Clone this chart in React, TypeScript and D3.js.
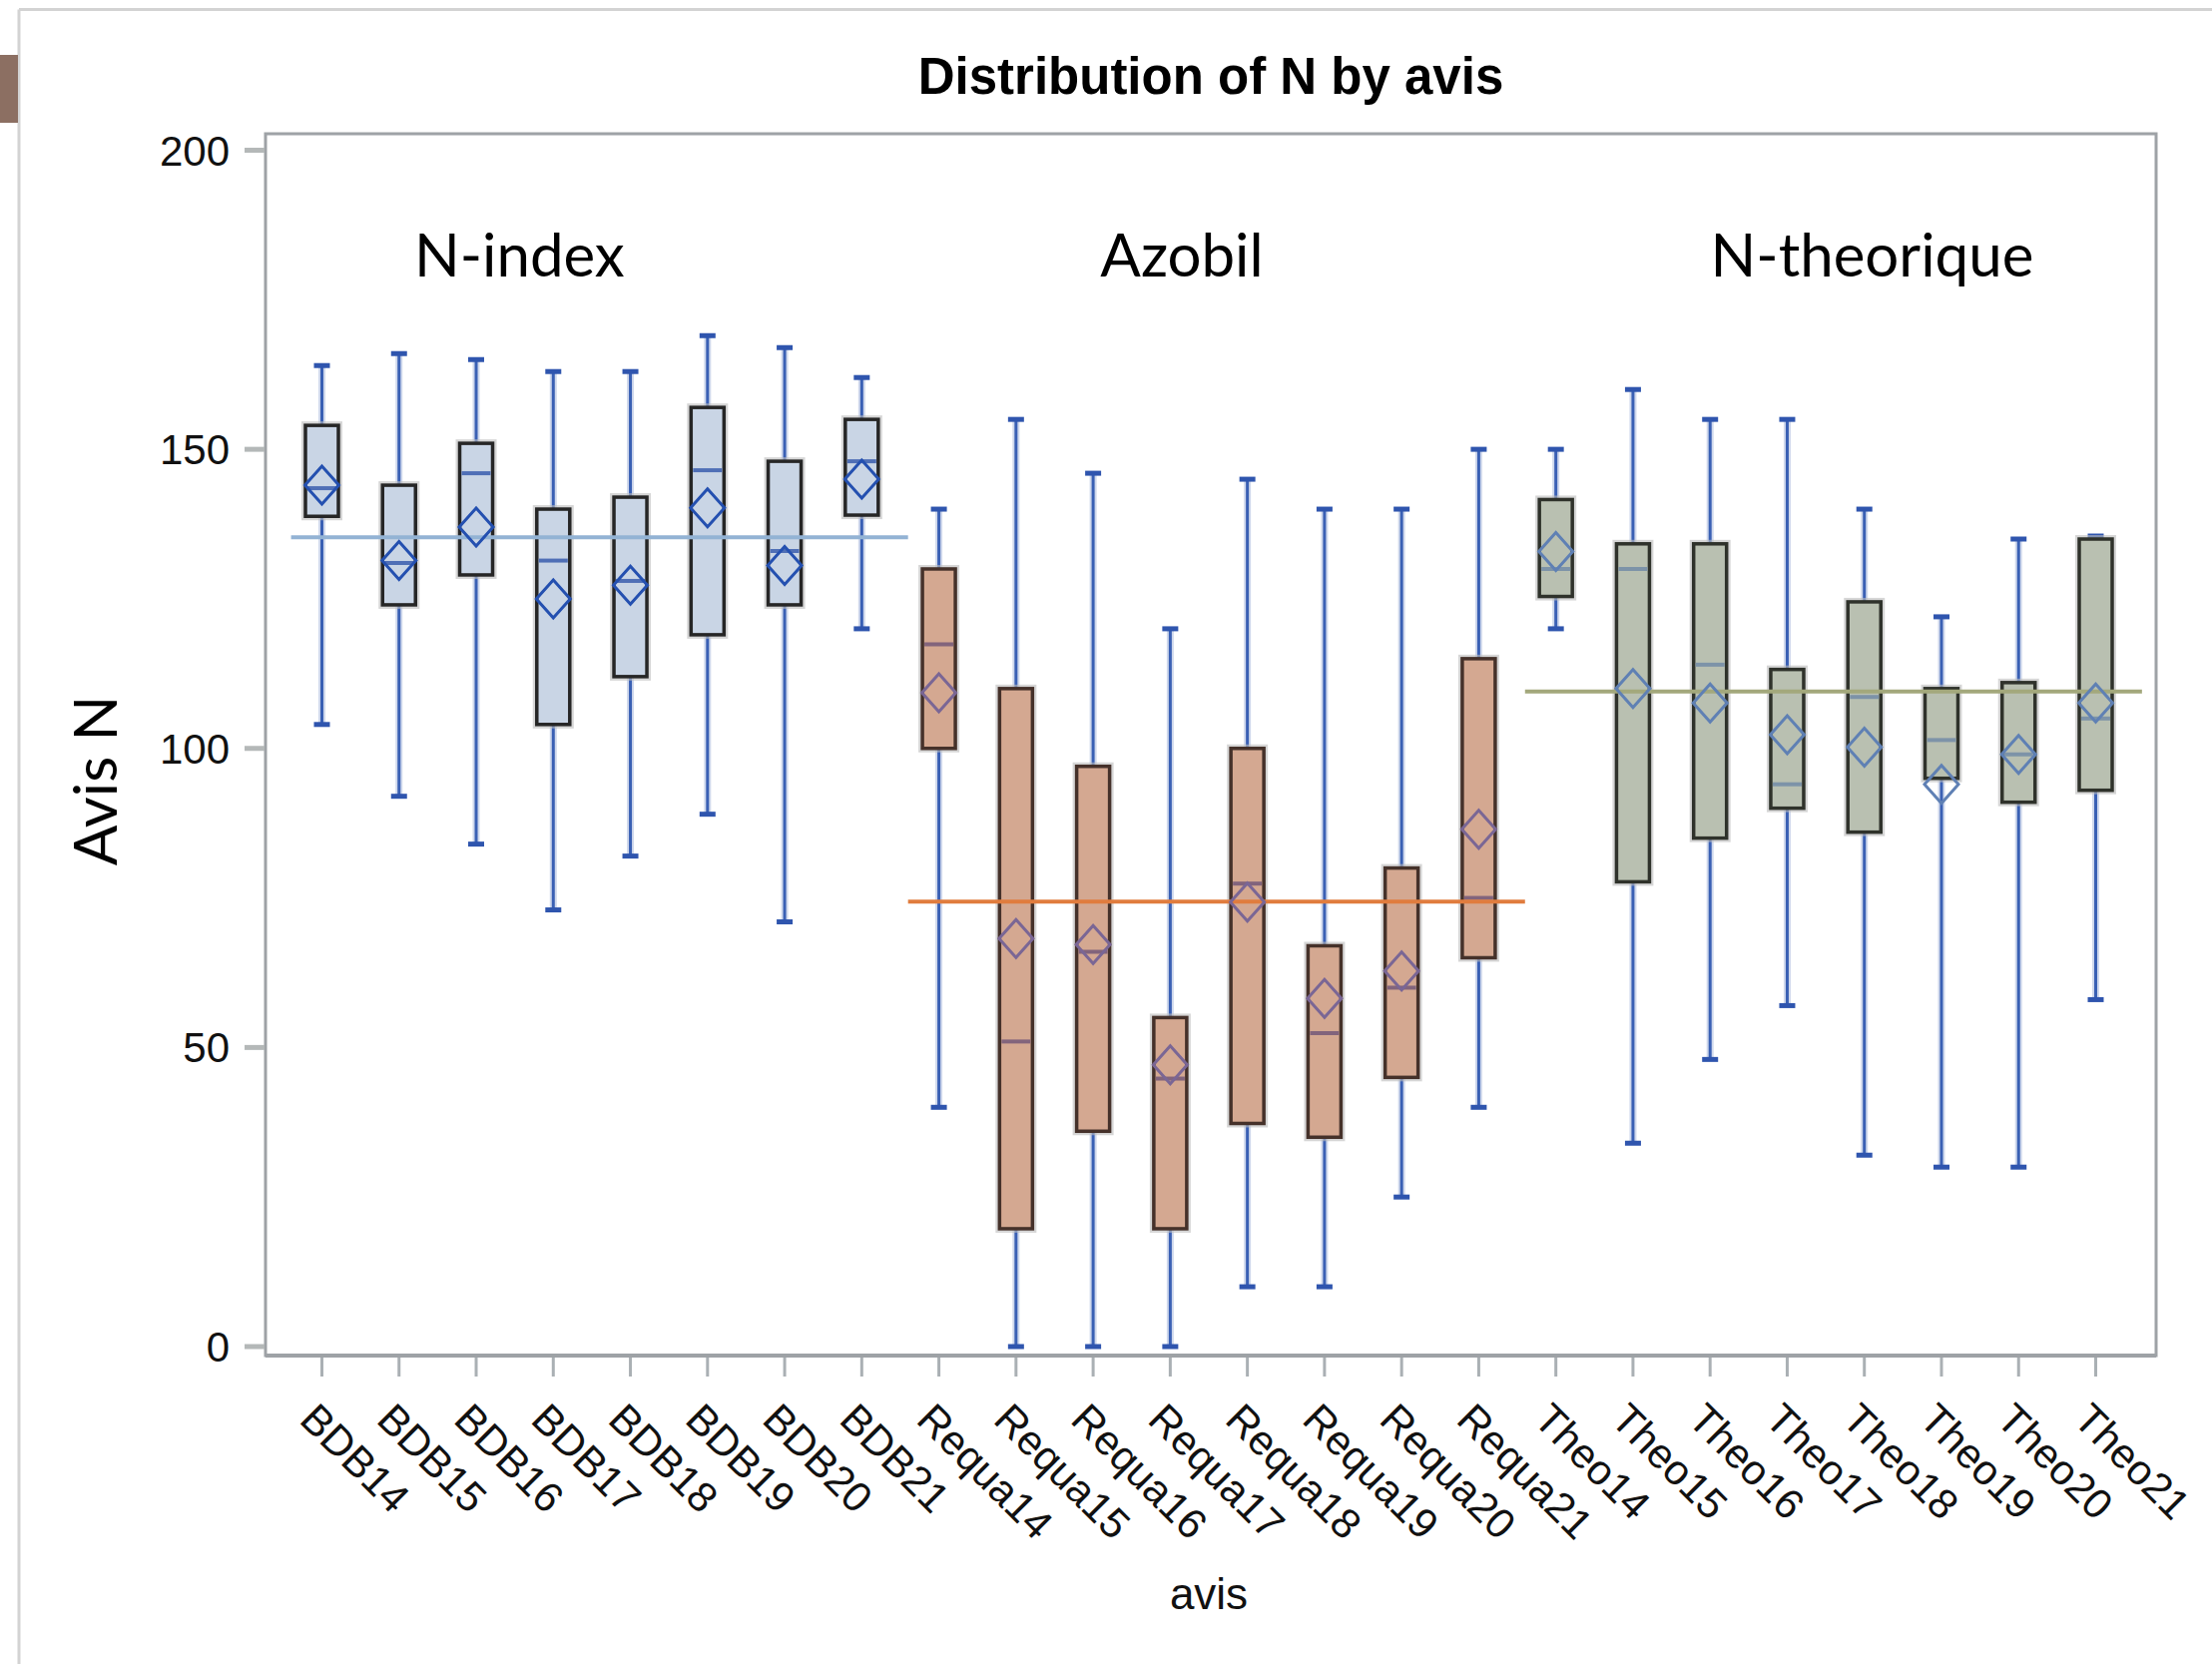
import React from 'react';
import * as d3 from 'd3';

// categories on the x axis
const categories = [
  'BDB14', 'BDB15', 'BDB16', 'BDB17', 'BDB18', 'BDB19', 'BDB20', 'BDB21',
  'Requa14', 'Requa15', 'Requa16', 'Requa17', 'Requa18', 'Requa19', 'Requa20', 'Requa21',
  'Theo14', 'Theo15', 'Theo16', 'Theo17', 'Theo18', 'Theo19', 'Theo20', 'Theo21',
];

// box statistics
const mins = [104, 92, 84, 73, 82, 89, 71, 120, 40, 0, 0, 0, 10, 10, 25, 40, 120, 34, 48, 57, 32, 30, 30, 58];
const q1s = [138.8, 124, 129, 104, 112, 119, 124, 139, 100, 19.7, 36, 19.7, 37.3, 35, 45, 65, 125.4, 77.7, 85, 90, 86, 95, 91, 93];
const medians = [143.5, 131, 146, 131.4, 128, 146.5, 133, 148, 117.4, 51, 66, 44.8, 77.4, 52.4, 60, 75, 130, 130, 114, 94, 108.6, 101.4, 99, 105];
const q3s = [154, 144, 151, 140, 142, 157, 148, 155, 130, 110, 97, 55, 100, 67, 80, 115, 141.6, 134.2, 134.2, 113.2, 124.5, 110, 111, 135];
const maxs = [164, 166, 165, 163, 163, 169, 167, 162, 140, 155, 146, 120, 145, 140, 140, 150, 150, 160, 155, 155, 140, 122, 135, 135.5];
const means = [144, 131.4, 137, 125, 127.3, 140.2, 130.6, 145, 109.3, 68.2, 67.2, 47.1, 74.3, 58.2, 62.8, 86.5, 132.9, 110, 107.6, 102.3, 100.2, 94, 99, 107.6];

// groups
const groupNames = ['N-index', 'Azobil', 'N-theorique'];
const groupSize = 8;
const groupMeans = [135.3, 74.4, 109.5];

const yTicks = [0, 50, 100, 150, 200];

const groupStyles = [
  { fill: '#c9d5e5', stroke: '#262626', median: '#4f6fb6', mean: '#2450b0', ref: '#93b3d4' },
  { fill: '#d4a891', stroke: '#45312a', median: '#82647c', mean: '#7a6695', ref: '#e07c3e' },
  { fill: '#b9c0b1', stroke: '#2f322b', median: '#7d93a8', mean: '#5f80b4', ref: '#a3a87c' },
];

export default function App() {
  const W = 2216;
  const H = 1667;
  const frame = { left: 266, right: 2160, top: 134, bottom: 1358 };

  const x = d3.scalePoint<string>().domain(categories).range([322.5, 2099.5]);
  const y = d3.scaleLinear().domain([0, 200]).range([1349, 150.5]);
  const step = x.step();
  const boxW = 33;
  const capW = 16;

  const sans = 'Liberation Sans, Arial, sans-serif';
  const geo = 'Lato, Noto Sans, sans-serif';

  // where the group labels sit, in category index units
  const idx = d3.scaleLinear().domain([0, categories.length - 1]).range([322.5, 2099.5]);
  const labelIdx = [2.56, 11.15, 20.1];

  return (
    <svg width={W} height={H} style={{ position: 'absolute', left: 0, top: 0, display: 'block', background: '#fff' }}>
      {/* page decorations */}
      <line x1={19} y1={9.5} x2={W} y2={9.5} stroke="#d3d3d3" strokeWidth={3} />
      <line x1={19} y1={9.5} x2={19} y2={H} stroke="#d3d3d3" strokeWidth={3} />
      <rect x={0} y={55} width={18} height={68} fill="#8c6f62" />

      {/* title */}
      <text x={(frame.left + frame.right) / 2} y={94} textAnchor="middle" fontFamily={sans} fontWeight="bold" fontSize={51} fill="#000">
        Distribution of N by avis
      </text>

      {/* frame */}
      <rect x={frame.left} y={frame.top} width={frame.right - frame.left} height={frame.bottom - frame.top} fill="none" stroke="#9ea2a6" strokeWidth={3} />
      <line x1={frame.left} x2={frame.right} y1={frame.bottom} y2={frame.bottom} stroke="#9ea2a6" strokeWidth={4} />

      {/* y axis */}
      {yTicks.map(t => (
        <g key={t}>
          <line x1={245} x2={frame.left - 1} y1={y(t)} y2={y(t)} stroke="#b4b8b8" strokeWidth={5} />
          <text x={230} y={y(t)} dy="0.36em" textAnchor="end" fontFamily={sans} fontSize={42} fill="#111">{t}</text>
        </g>
      ))}
      <text transform={`translate(${117},${782}) rotate(-90)`} textAnchor="middle" fontFamily={geo} fontSize={60} fill="#000">Avis N</text>

      {/* x axis */}
      {categories.map(c => (
        <g key={c}>
          <line x1={x(c)} x2={x(c)} y1={frame.bottom + 2} y2={frame.bottom + 21} stroke="#aab0b4" strokeWidth={3} />
          <text transform={`translate(${(x(c) as number) - 24},${1424}) rotate(45)`} fontFamily={sans} fontSize={42} fill="#111">{c}</text>
        </g>
      ))}
      <text x={1211} y={1612} textAnchor="middle" fontFamily={sans} fontSize={44} fill="#111">avis</text>

      {/* group labels */}
      {groupNames.map((g, i) => (
        <text key={g} x={idx(labelIdx[i])} y={277} textAnchor="middle" fontFamily={geo} fontSize={60} fill="#000">{g}</text>
      ))}

      {/* boxes */}
      {categories.map((c, i) => {
        const cx = x(c) as number;
        const s = groupStyles[Math.floor(i / groupSize)];
        return (
          <g key={c}>
            <line x1={cx} x2={cx} y1={y(maxs[i])} y2={y(q3s[i])} stroke="#cfd8ec" strokeWidth={7} />
            <line x1={cx} x2={cx} y1={y(q1s[i])} y2={y(mins[i])} stroke="#cfd8ec" strokeWidth={7} />
            <line x1={cx} x2={cx} y1={y(maxs[i])} y2={y(q3s[i])} stroke="#3a60b4" strokeWidth={3} />
            <line x1={cx} x2={cx} y1={y(q1s[i])} y2={y(mins[i])} stroke="#3a60b4" strokeWidth={3} />
            <line x1={cx - capW / 2} x2={cx + capW / 2} y1={y(maxs[i])} y2={y(maxs[i])} stroke="#2f55ae" strokeWidth={5} />
            <line x1={cx - capW / 2} x2={cx + capW / 2} y1={y(mins[i])} y2={y(mins[i])} stroke="#2f55ae" strokeWidth={5} />
            <rect x={cx - boxW / 2} y={y(q3s[i])} width={boxW} height={y(q1s[i]) - y(q3s[i])} fill="none" stroke="#bbbbbb" strokeWidth={8} opacity={0.6} />
            <rect x={cx - boxW / 2} y={y(q3s[i])} width={boxW} height={y(q1s[i]) - y(q3s[i])} fill={s.fill} stroke={s.stroke} strokeWidth={3.5} />
            <line x1={cx - boxW / 2 + 2} x2={cx + boxW / 2 - 2} y1={y(medians[i])} y2={y(medians[i])} stroke={s.median} strokeWidth={4} />
          </g>
        );
      })}

      {/* group reference lines */}
      {groupNames.map((g, i) => {
        const first = x(categories[i * groupSize]) as number;
        const last = x(categories[i * groupSize + groupSize - 1]) as number;
        return (
          <line key={g} x1={first - 0.4 * step} x2={last + 0.6 * step} y1={y(groupMeans[i])} y2={y(groupMeans[i])} stroke={groupStyles[i].ref} strokeWidth={4} />
        );
      })}

      {/* means */}
      {categories.map((c, i) => {
        const cx = x(c) as number;
        const cy = y(means[i]);
        const s = groupStyles[Math.floor(i / groupSize)];
        const path = d3.path();
        path.moveTo(cx, cy - 19);
        path.lineTo(cx + 17, cy);
        path.lineTo(cx, cy + 19);
        path.lineTo(cx - 17, cy);
        path.closePath();
        return <path key={c} d={path.toString()} fill="none" stroke={s.mean} strokeWidth={3} />;
      })}
    </svg>
  );
}
